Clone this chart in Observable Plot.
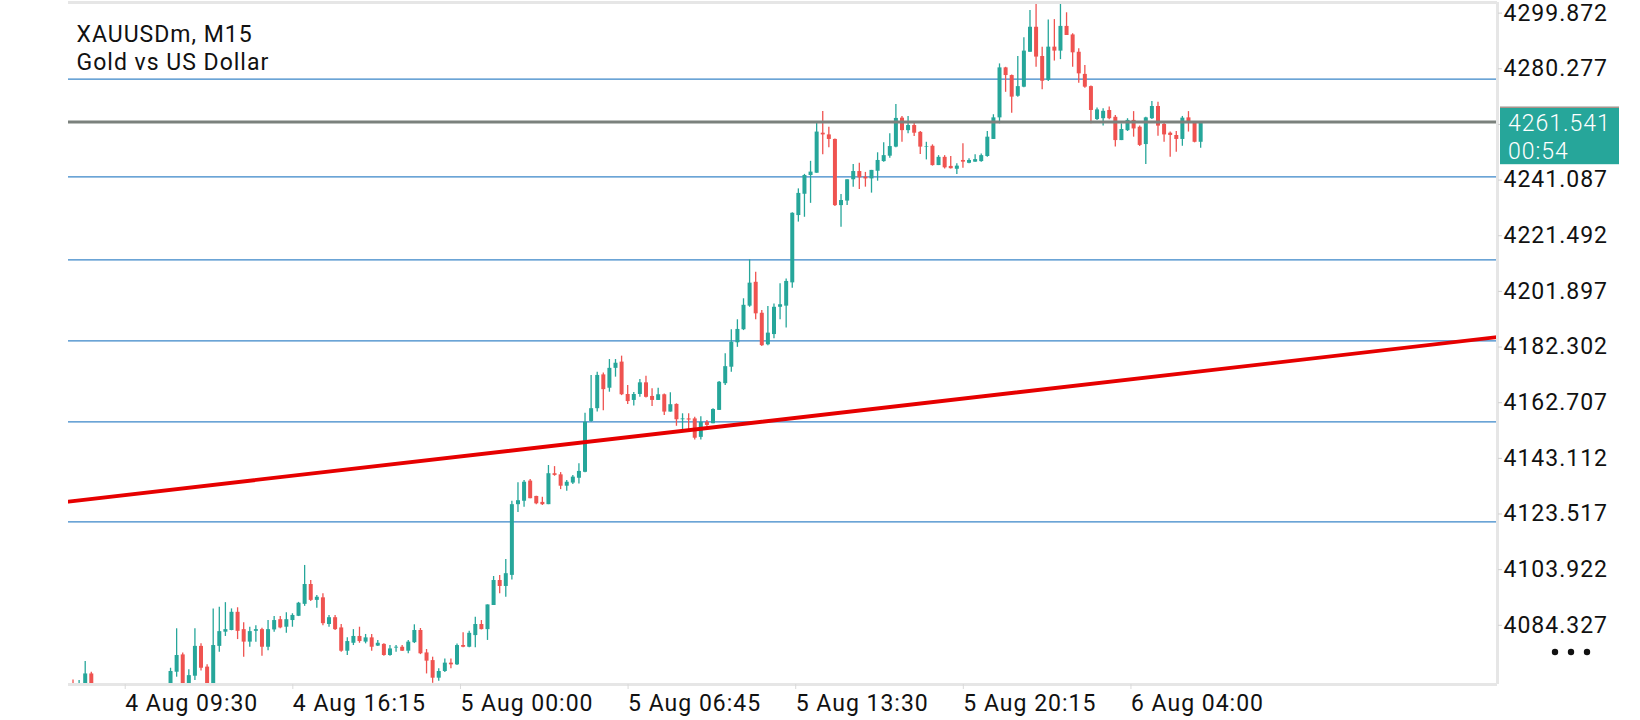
<!DOCTYPE html>
<html><head><meta charset="utf-8">
<script src="https://cdn.jsdelivr.net/npm/d3@7"></script>
<script src="https://cdn.jsdelivr.net/npm/@observablehq/plot@0.6"></script>
<style>
html,body{margin:0;padding:0;background:#fff;}
#chart{width:1640px;height:720px;overflow:hidden;}
svg text{letter-spacing:1px;}
</style></head><body><div id="chart"></div>
<script>
const symbolTitle = "XAUUSDm, M15";
const symbolSubtitle = "Gold vs US Dollar";
const currentPrice = 4261.541;
const countdown = "00:54";

// M15 candles, bar index 0..185 (4 Aug 07:30 .. 6 Aug 06:45)
const opens = [4063.8,4060.5,4061.0,4067.2,4060,4057,4054,4056,4059,4057,4053,4055,4058,4056,4059,4058,
4061.5,4067.8,4073.9,4062.8,4066.4,4076.9,4069.6,4062.5,4076.9,4081.9,4082.5,4088.9,4082.8,4078.4,4082.2,4082.8,4076.6,4082.7,4086.3,4083.65,4086.0,4087.5,4091.7,4098.7,4093.1,4094.0,4084.6,4087.0,4083.4,4075.2,4078.0,4080.4,4078.4,4079.9,
4077.0,4077.6,4073.7,4076.3,4076.6,4075.2,4078.2,4082.5,4074.6,4071.9,4065.7,4068.05,4071.0,4070.4,4077.2,4076.6,4080.7,4084.6,4082.8,4091.3,4100.1,4098.0,4101.9,4126.8,4128.0,4135.1,4129.7,4127.6,4126.8,4137.7,
4137.3,4133.3,4134.4,4136.1,4138.2,4156.1,4160.6,4172.5,4167.8,4174.8,4177.0,4165.6,4163.5,4165.6,4169.7,4164.9,4163.5,4165.5,4159.4,4162.1,
4156.7,4157.0,4157.0,4150.5,4155.8,4155.3,4160.0,4169.4,4175.2,4183.8,4188.4,4196.7,4205.1,4194.2,4183.1,4186.7,4196.3,4196.7,4204.9,4228.6,
4236.1,4242.7,4243.5,4257.6,4257.0,4255.4,4232.1,4233.7,4241.2,4244.1,4242.1,4241.5,4244.2,4247.6,4249.5,4252.7,4262.9,4258.5,4260.3,4257.9,
4252.7,4253.0,4246.2,4249.1,4245.9,4244.9,4248.0,4247.0,4247.4,4247.6,4249.4,4255.4,4263.0,4280.6,4277.9,4270.6,4273.8,4286.1,4294.9,4284.6,
4276.2,4287.9,4286.5,4295.2,4292.2,4286.1,4278.3,4274.0,4262.4,4262.7,4265.6,4263.2,4255.0,4258.5,4262.1,4259.7,4253.6,4262.7,4267.0,4260.7,
4257.6,4256.8,4255.4,4263.0,4261.5,4254.4];
const highs = [4065.1,4064.9,4071.6,4067.8,4062,4060,4058,4061,4062,4059,4057,4060,4062,4060,4062,4062.5,
4069.2,4083.1,4074.6,4068.65,4083.1,4077.8,4070.4,4090.1,4090.7,4092.3,4090.1,4090.5,4085.2,4083.65,4084.2,4083.3,4086.0,4087.4,4087.4,4088.7,4088.4,4092.4,4105.4,4100.1,4094.8,4095.4,4087.8,4087.8,4084.6,4079.9,4082.8,4083.65,4081.1,4081.1,
4079.0,4077.8,4077.2,4077.2,4077.2,4079.0,4084.5,4083.2,4075.8,4073.1,4069.0,4072.5,4072.5,4077.7,4081.7,4082.2,4087.2,4086.0,4091.5,4101.5,4101.9,4107.5,4128.0,4134.5,4135.3,4135.7,4129.8,4129.4,4140.6,4140.2,
4138.1,4135.3,4137.1,4141.2,4159.0,4172.3,4173.4,4173.2,4177.9,4177.9,4179.1,4168.8,4166.3,4170.9,4172.0,4167.6,4167.8,4165.8,4166.2,4162.3,
4158.8,4158.8,4157.6,4157.8,4156.4,4160.6,4170.2,4179.9,4188.4,4191.9,4199.3,4213.0,4208.6,4195.2,4196.6,4197.5,4204.6,4206.3,4229.6,4238.0,
4243.1,4247.7,4261.3,4265.2,4259.7,4255.6,4236.0,4241.2,4246.6,4247.0,4243.8,4244.5,4250.7,4254.2,4257.4,4267.7,4263.5,4263.5,4261.5,4258.2,
4254.4,4253.5,4249.7,4249.7,4249.4,4246.8,4253.9,4248.6,4250.0,4250.3,4258.2,4264.1,4282.0,4280.8,4278.1,4284.6,4291.2,4300.8,4303.2,4287.9,
4297.5,4297.6,4303.2,4300.0,4292.6,4287.3,4281.4,4274.2,4266.5,4266.2,4266.8,4263.8,4260.9,4262.7,4265.2,4260.1,4263.2,4268.8,4268.5,4261.3,
4258.0,4258.2,4263.5,4265.2,4261.7,4261.6];
const lows = [4060.0,4059.0,4059.0,4057.0,4055,4052,4050,4053,4055,4051,4049,4052,4054,4053,4056,4055,
4059,4066.05,4060,4061,4064.9,4068.2,4060,4061,4074.8,4080.4,4082.4,4079.3,4073.1,4076.6,4078.4,4073.4,4075.4,4081.9,4083.1,4081.5,4083.65,4087.4,4091.0,4092.7,4090.3,4084.2,4083.65,4082.5,4074.8,4073.7,4077.2,4078.0,4077.8,4075.2,
4076.9,4073.4,4073.4,4074.8,4075.1,4074.3,4077.9,4074.0,4067.2,4063.9,4064.6,4067.7,4069.0,4070.2,4076.4,4076.4,4076.4,4082.7,4079.0,4091.3,4095.4,4094.2,4100.3,4124.0,4125.9,4128.9,4126.8,4126.5,4126.8,4136.8,
4132.1,4131.5,4133.9,4134.1,4138.0,4155.8,4159.4,4159.9,4166.4,4171.7,4165.2,4162.1,4161.5,4164.6,4164.4,4161.4,4163.5,4158.2,4159.4,4154.4,
4152.9,4152.9,4149.6,4149.6,4154.1,4155.3,4160.0,4168.8,4173.4,4182.2,4188.1,4196.3,4191.9,4182.5,4182.8,4185.2,4191.9,4189.0,4203.0,4226.3,
4228.0,4232.9,4243.5,4250.0,4252.5,4231.8,4224.5,4232.1,4238.6,4237.8,4238.6,4236.5,4240.7,4247.4,4248.8,4252.5,4254.4,4257.4,4256.4,4250.1,
4248.2,4246.0,4246.2,4245.0,4245.0,4243.1,4245.3,4246.8,4247.4,4247.4,4249.1,4255.4,4260.9,4272.0,4264.6,4270.3,4273.6,4286.1,4280.8,4272.9,
4275.8,4283.0,4283.5,4292.0,4280.8,4275.2,4273.4,4260.9,4262.1,4260.1,4262.3,4252.7,4255.0,4258.2,4256.2,4252.9,4246.6,4262.4,4256.5,4254.4,
4249.1,4250.9,4253.0,4258.0,4254.2,4252.3];
const closes = [4062.5,4062.8,4067.2,4060.0,4057,4054,4056,4059,4057,4053,4055,4058,4056,4059,4058,4061.5,
4068.05,4073.7,4062.5,4066.6,4076.9,4069.2,4062,4077.2,4082.1,4082.8,4088.9,4082.2,4078.4,4082.1,4082.8,4076.6,4082.8,4086.0,4083.4,4086.3,4087.8,4092.1,4098.7,4093.1,4094.2,4084.9,4087.0,4082.8,4075.2,4078.6,4080.4,4078.6,4079.9,4076.6,
4078.0,4073.7,4076.0,4076.6,4075.2,4078.4,4082.5,4074.3,4071.7,4065.7,4068.05,4071.0,4070.4,4077.2,4076.6,4081.5,4084.6,4082.8,4091.5,4100.1,4098.0,4102.5,4126.8,4128.2,4134.7,4128.9,4127.1,4126.8,4137.7,4137.1,
4133.3,4134.7,4136.5,4138.5,4155.8,4160.6,4172.3,4167.3,4174.8,4176.6,4165.5,4163.1,4165.6,4169.7,4164.6,4163.5,4165.5,4159.4,4162.0,4156.7,
4157.0,4156.6,4150.2,4155.8,4154.7,4160.3,4169.9,4175.4,4184.0,4188.5,4197.0,4204.8,4194.0,4182.8,4187.2,4196.3,4197.2,4205.4,4229.4,4236.4,
4242.7,4243.9,4258.0,4257.0,4255.4,4232.1,4233.9,4241.2,4244.1,4241.9,4241.5,4244.5,4248.0,4249.7,4252.9,4262.8,4258.5,4260.3,4257.6,4252.7,
4252.9,4246.2,4249.1,4245.4,4245.1,4246.0,4247.4,4248.0,4248.3,4249.7,4256.2,4263.0,4280.6,4277.9,4270.3,4274.0,4286.5,4294.9,4284.4,4275.9,
4287.9,4286.5,4295.2,4292.0,4285.9,4278.5,4273.8,4265.6,4265.8,4265.3,4262.7,4255.0,4258.9,4262.1,4259.1,4253.3,4263.0,4267.0,4260.1,4257.0,
4256.8,4255.4,4262.9,4261.2,4254.4,4261.541];

// time axis labels and the bar positions where they sit
const timeTickBars = [8.4, 35.9, 63.4, 90.9, 118.4, 145.9, 173.4];
const timeTickLabels = ["4 Aug 09:30","4 Aug 16:15","5 Aug 00:00","5 Aug 06:45","5 Aug 13:30","5 Aug 20:15","6 Aug 04:00"];
// price axis labels (4260.682 sits behind the current-price box)
const priceTicks = [4299.872,4280.277,4260.682,4241.087,4221.492,4201.897,4182.302,4162.707,4143.112,4123.517,4103.922,4084.327];
const hiddenPriceTick = 4260.682;
// user-drawn horizontal levels
const levels = [4276.61, 4242.24, 4213.02, 4184.50, 4155.98, 4120.77];
// red trend line anchors (bar index, price)
const trendBars = [-0.74, 233.7];
const trendPrices = [4127.9, 4185.8];

const xDomain = [-0.74, 233.7];
const yDomain = [4063.48, 4303.62];

const UP = "#26a69a", DOWN = "#ef5350";
const bars = opens.map((o, i) => ({i, o, h: highs[i], l: lows[i], c: closes[i]}));
const trend = trendBars.map((b, k) => ({bar: b, price: trendPrices[k]}));
const labelMap = new Map(timeTickBars.map((b, k) => [b, timeTickLabels[k]]));
const col = d => d.c >= d.o ? UP : DOWN;

const chart = Plot.plot({
  width: 1640, height: 720,
  marginLeft: 68, marginRight: 143, marginTop: 2, marginBottom: 36,
  style: {fontFamily: "Roboto", fontSize: "23px", background: "#fff", color: "#111", overflow: "visible"},
  x: {domain: xDomain},
  y: {domain: yDomain},
  marks: [
    Plot.ruleY(levels, {stroke: "#3a86c8", strokeWidth: 1.2}),
    Plot.ruleX(bars, {x: "i", y1: "l", y2: "h", stroke: col, strokeWidth: 1.3, clip: true}),
    Plot.ruleX(bars, {x: "i", y1: "o", y2: "c", stroke: col, strokeWidth: 4, clip: true}),
    Plot.line(trend, {x: "bar", y: "price", stroke: "#e60000", strokeWidth: 3.8, clip: true}),
    Plot.ruleY([currentPrice], {stroke: "#7b817d", strokeWidth: 3}),
    Plot.ruleY([yDomain[1]], {stroke: "#e6e6e6", strokeWidth: 3}),
    Plot.ruleY([yDomain[0]], {stroke: "#e6e6e6", strokeWidth: 3}),
    Plot.ruleX([xDomain[1]], {stroke: "#e6e6e6", strokeWidth: 3}),
    Plot.axisY({anchor: "right", ticks: priceTicks, tickFormat: d => d === hiddenPriceTick ? "" : d.toFixed(3),
      tickSize: 4, tickPadding: 2, stroke: "#cfcfcf", fill: "#111", label: null}),
    Plot.axisX({anchor: "bottom", ticks: timeTickBars, tickFormat: d => labelMap.get(d), tickSize: 5, tickPadding: 5,
      textAnchor: "start", dx: 1, stroke: "#d9d9d9", fill: "#111", label: null}),
    Plot.text([symbolTitle + "\n" + symbolSubtitle], {frameAnchor: "top-left", dx: 8, dy: 20,
      lineAnchor: "top", lineHeight: 1.2, textAnchor: "start", fill: "#111"})
  ]
});
document.getElementById("chart").appendChild(chart);

// current price box on the price scale
const svg = d3.select(chart);
const py = chart.scale("y").apply(currentPrice);
const fx = chart.scale("x").apply(xDomain[1]);
const g = svg.append("g").attr("text-anchor", "start");
g.append("rect").attr("x", fx + 3).attr("y", py - 14.8).attr("width", 119).attr("height", 57.5).attr("fill", UP);
g.append("line").attr("x1", fx + 3).attr("x2", fx + 122).attr("y1", py - 14.3).attr("y2", py - 14.3)
  .attr("stroke", "#e88a84").attr("stroke-width", 1);
g.append("text").attr("x", fx + 11).attr("y", py + 1.5).attr("dy", "0.35em").attr("fill", "#fff")
  .attr("text-anchor", "start").attr("font-family", "Roboto").attr("font-size", 23).attr("font-weight", 300)
  .text(currentPrice.toFixed(3));
g.append("text").attr("x", fx + 11).attr("y", py + 29).attr("dy", "0.35em").attr("fill", "#fff")
  .attr("text-anchor", "start").attr("font-family", "Roboto").attr("font-size", 23).attr("font-weight", 300)
  .text(countdown);
// menu dots
const fb = chart.scale("y").apply(yDomain[0]);
[58, 74, 90].forEach(o => g.append("circle").attr("cx", fx + o).attr("cy", fb - 32).attr("r", 3.2).attr("fill", "#111"));
</script></body></html>
